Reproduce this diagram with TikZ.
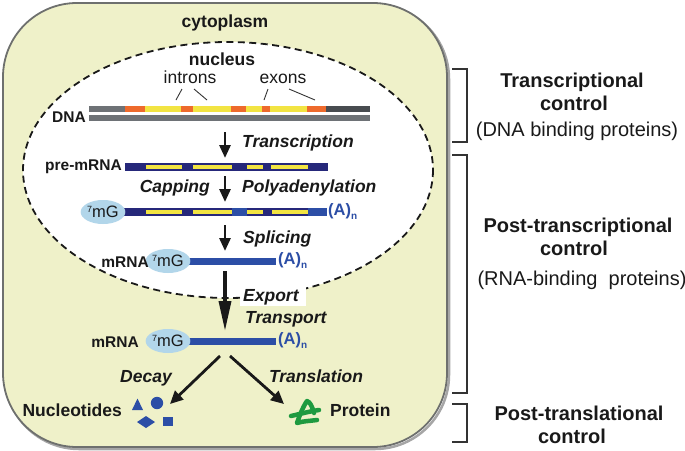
\documentclass[tikz,border=0pt]{standalone}
\usepackage{fontspec}
\setmainfont{Liberation Sans}
\usetikzlibrary{arrows.meta,shapes.geometric}
\definecolor{cyto}{RGB}{239,241,201}
\definecolor{cytoedge}{RGB}{110,112,110}
\definecolor{dnagray}{RGB}{110,114,118}
\definecolor{dnadark}{RGB}{72,76,80}
\definecolor{orng}{RGB}{238,106,44}
\definecolor{yel}{RGB}{242,228,66}
\definecolor{navy}{RGB}{38,40,122}
\definecolor{rnablue}{RGB}{44,78,166}
\definecolor{capblue}{RGB}{178,214,234}
\definecolor{protgreen}{RGB}{30,154,64}
\definecolor{txt}{RGB}{25,25,25}
\begin{document}
\begin{tikzpicture}[x=1pt,y=-1pt,
  lbl/.style={font=\fontsize{17.5}{20}\selectfont\bfseries, text=txt, inner sep=0pt, anchor=base},
  reg/.style={font=\fontsize{17.5}{20}\selectfont, text=txt, inner sep=0pt, anchor=base},
  itl/.style={font=\fontsize{17.5}{20}\selectfont\bfseries\itshape, text=txt, inner sep=0pt, anchor=base},
  small/.style={font=\fontsize{15.5}{18}\selectfont\bfseries, text=txt, inner sep=0pt, anchor=base},
  side/.style={font=\fontsize{20}{24}\selectfont\bfseries, text=txt, inner sep=0pt, anchor=base},
  sidereg/.style={font=\fontsize{20}{24}\selectfont, text=txt, inner sep=0pt, anchor=base},
  capnode/.style={ellipse, fill=capblue, minimum width=35pt, minimum height=24pt, inner sep=0pt,
     font=\fontsize{16.5}{16}\selectfont, text=txt},
  polya/.style={font=\fontsize{16.5}{16}\selectfont\bfseries, text=rnablue, inner sep=0pt, anchor=west},
  arrsmall/.style={line width=2.8pt, draw=txt, -{Triangle[length=13pt,width=11pt]}},
  arrexport/.style={line width=3.5pt, draw=txt, -{Triangle[length=30pt,width=12pt]}},
  arrdiag/.style={line width=2.8pt, draw=txt, -{Triangle[length=13pt,width=12pt]}},
  bracketline/.style={line width=2pt, draw=black!80},
  pointer/.style={line width=0.9pt, draw=black!80},
  prot/.style={line width=4.5pt, draw=protgreen, line cap=round, line join=round},
  nuc/.style={fill=rnablue}
]
\useasboundingbox (0,0) rectangle (685,450);
% cytoplasm
\draw[line width=2.5pt, draw=black!35, rounded corners=74pt] (5,5) rectangle (449,449);
\draw[line width=1.8pt, draw=cytoedge, fill=cyto, rounded corners=74pt] (3,3) rectangle (447,447);
\node[lbl] (cyto) at (225,27) {cytoplasm};
% nucleus
\draw[fill=white, draw=txt, line width=1.8pt, dash pattern=on 7pt off 4.5pt] (228,170) ellipse [x radius=205, y radius=128];
\node[lbl] (nucleus) at (222,65) {nucleus};
\node[reg] (introns) at (190,83) {introns};
\node[reg] (exons) at (283,83) {exons};
\coordinate (i1a) at (182,89); \coordinate (i1b) at (176,100);
\coordinate (i2a) at (194,89); \coordinate (i2b) at (207,100);
\coordinate (e1a) at (268,89); \coordinate (e1b) at (264,100);
\coordinate (e2a) at (289,89); \coordinate (e2b) at (315,100);
\draw[pointer] (i1a) -- (i1b);
\draw[pointer] (i2a) -- (i2b);
\draw[pointer] (e1a) -- (e1b);
\draw[pointer] (e2a) -- (e2b);
% DNA
\node[small] (dna) at (69,122) {DNA};
\fill[dnagray] (89,106) rectangle (125,112);
\fill[orng] (125,106) rectangle (145,112);
\fill[yel] (145,106) rectangle (181,112);
\fill[orng] (181,106) rectangle (193,112);
\fill[yel] (193,106) rectangle (231,112);
\fill[orng] (231,106) rectangle (246,112);
\fill[yel] (246,106) rectangle (262,112);
\fill[orng] (262,106) rectangle (270,112);
\fill[yel] (270,106) rectangle (307,112);
\fill[orng] (307,106) rectangle (326,112);
\fill[dnadark] (326,106) rectangle (370,112);
\fill[dnagray] (89,115) rectangle (370,121);
% transcription
\coordinate (t1) at (225,132); \coordinate (t2) at (225,158);
\draw[arrsmall] (t1) -- (t2);
\node[itl, anchor=base west] (transcription) at (242,147) {Transcription};
% pre-mRNA
\node[small, anchor=base east] (pre) at (122,170) {pre-mRNA};
\fill[navy] (125,163) rectangle (328,171);
\foreach \a/\b in {146/182,193/232,247/263,271/308} \fill[yel] (\a,165) rectangle (\b,169);
% capping
\coordinate (c1) at (225,176); \coordinate (c2) at (225,202);
\draw[arrsmall] (c1) -- (c2);
\node[itl, anchor=base east] (capping) at (210,192) {Capping};
\node[itl, anchor=base west] (polyad) at (242,192) {Polyadenylation};
% capped pre-mRNA
\fill[navy] (112,208) rectangle (327,216);
\fill[rnablue] (232,208) rectangle (247,216);
\fill[rnablue] (308,208) rectangle (327,216);
\foreach \a/\b in {146/182,193/232,247/263,272/308} \fill[yel] (\a,210) rectangle (\b,214);
\node[capnode] (cap0) at (103,212) {\raisebox{5pt}{\fontsize{9}{9}\selectfont 7}mG};
\node[polya] (pa0) at (328,212) {(A)\raisebox{-4pt}{\fontsize{10}{10}\selectfont n}};
% splicing
\coordinate (s1) at (225,225); \coordinate (s2) at (225,251);
\draw[arrsmall] (s1) -- (s2);
\node[itl, anchor=base west] (splicing) at (243,243) {Splicing};
% nuclear mRNA
\fill[rnablue] (180,258) rectangle (276,265);
\node[capnode] (cap1) at (168,261) {\raisebox{5pt}{\fontsize{9}{9}\selectfont 7}mG};
\node[polya] (pa1) at (278,261) {(A)\raisebox{-4pt}{\fontsize{10}{10}\selectfont n}};
\node[small, anchor=base east] (mrna1) at (149,267) {mRNA};
% export
\fill[white] (240,283) rectangle (306,306);
\coordinate (x1) at (225,271); \coordinate (x2) at (225,331);
\draw[arrexport] (x1) -- (x2);
\node[itl, anchor=base west] (export) at (243,301) {Export};
\node[itl, anchor=base west] (transport) at (245,323) {Transport};
% cytoplasmic mRNA
\fill[rnablue] (180,338) rectangle (276,345);
\node[capnode] (cap2) at (168,341) {\raisebox{5pt}{\fontsize{9}{9}\selectfont 7}mG};
\node[polya] (pa2) at (278,341) {(A)\raisebox{-4pt}{\fontsize{10}{10}\selectfont n}};
\node[small, anchor=base east] (mrna2) at (139,347) {mRNA};
% decay / translation
\coordinate (d1) at (220,356); \coordinate (d2) at (170,404);
\coordinate (r1) at (230,356); \coordinate (r2) at (284,404);
\draw[arrdiag] (d1) -- (d2);
\draw[arrdiag] (r1) -- (r2);
\node[itl] (decay) at (146,382) {Decay};
\node[itl] (translation) at (316,382) {Translation};
\node[lbl, anchor=base east] (nucleotides) at (122,416) {Nucleotides};
\fill[nuc] (132,410) -- (143,410) -- (137.5,398.5) -- cycle;
\fill[nuc] (157,403) circle (6.2);
\fill[nuc] (137,422) -- (146,416) -- (155,422) -- (146,428) -- cycle;
\fill[nuc] (163,417) rectangle (173,426);
% protein
\draw[prot] (314,413) .. controls (312,406) and (310,402) .. (307,401) .. controls (304,405) and (300,414) .. (297,423) .. controls (303,421) and (310,421) .. (317,420);
\draw[prot] (291,416) .. controls (300,414) and (311,411) .. (319,410);
\node[lbl, anchor=base west] (protein) at (330,416) {Protein};
% brackets
\coordinate (b1a) at (452,69); \coordinate (b1b) at (467,69); \coordinate (b1c) at (467,142); \coordinate (b1d) at (452,142);
\draw[bracketline] (b1a) -- (b1b) -- (b1c) -- (b1d);
\coordinate (b2a) at (452,155); \coordinate (b2b) at (467,155); \coordinate (b2c) at (467,393); \coordinate (b2d) at (452,393);
\draw[bracketline] (b2a) -- (b2b) -- (b2c) -- (b2d);
\coordinate (b3a) at (452,404); \coordinate (b3b) at (467,404); \coordinate (b3c) at (467,442); \coordinate (b3d) at (452,442);
\draw[bracketline] (b3a) -- (b3b) -- (b3c) -- (b3d);
\node[side] (tc1) at (572,87) {Transcriptional};
\node[side] (tc2) at (574,110) {control};
\node[sidereg] (tc3) at (577,136) {(DNA binding proteins)};
\node[side] (pt1) at (578,232) {Post-transcriptional};
\node[side] (pt2) at (574,255) {control};
\node[sidereg] (pt3) at (582,285) {(RNA-binding\ \ proteins)};
\node[side] (pl1) at (579,420) {Post-translational};
\node[side] (pl2) at (572,443) {control};
\end{tikzpicture}
\end{document}
